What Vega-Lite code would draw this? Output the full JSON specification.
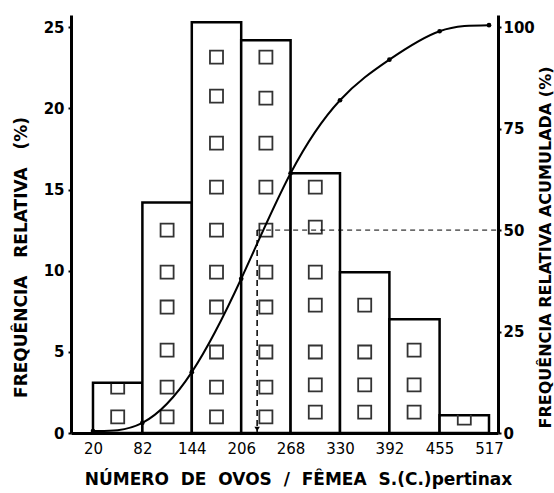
{
  "$schema": "https://vega.github.io/schema/vega-lite/v6.json",
  "width": 427,
  "height": 418,
  "autosize": {"type": "none"},
  "padding": {"left": 71, "top": 15, "right": 56, "bottom": 60},
  "background": "white",
  "config": {"view": {"stroke": null}, "font": "DejaVu Sans"},
  "datasets": {
    "bars": [
      {"start": 20, "end": 82, "freq": 3.1},
      {"start": 82, "end": 144, "freq": 14.2},
      {"start": 144, "end": 206, "freq": 25.3},
      {"start": 206, "end": 268, "freq": 24.2},
      {"start": 268, "end": 330, "freq": 16.0},
      {"start": 330, "end": 392, "freq": 9.9},
      {"start": 392, "end": 455, "freq": 7.0},
      {"start": 455, "end": 517, "freq": 1.1}
    ],
    "squares": [
      {"start": 20, "level": 0.99}, {"start": 20, "level": 2.83},
      {"start": 82, "level": 0.99}, {"start": 82, "level": 2.83}, {"start": 82, "level": 5.11}, {"start": 82, "level": 7.76}, {"start": 82, "level": 9.91}, {"start": 82, "level": 12.5},
      {"start": 144, "level": 0.99}, {"start": 144, "level": 2.83}, {"start": 144, "level": 4.99}, {"start": 144, "level": 7.76}, {"start": 144, "level": 9.91}, {"start": 144, "level": 12.5}, {"start": 144, "level": 15.15}, {"start": 144, "level": 17.86}, {"start": 144, "level": 20.75}, {"start": 144, "level": 23.15},
      {"start": 206, "level": 0.99}, {"start": 206, "level": 2.83}, {"start": 206, "level": 4.99}, {"start": 206, "level": 7.76}, {"start": 206, "level": 9.91}, {"start": 206, "level": 12.5}, {"start": 206, "level": 15.15}, {"start": 206, "level": 17.86}, {"start": 206, "level": 20.63}, {"start": 206, "level": 23.15},
      {"start": 268, "level": 1.29}, {"start": 268, "level": 2.96}, {"start": 268, "level": 4.99}, {"start": 268, "level": 7.88}, {"start": 268, "level": 9.91}, {"start": 268, "level": 12.68}, {"start": 268, "level": 15.15},
      {"start": 330, "level": 1.29}, {"start": 330, "level": 2.96}, {"start": 330, "level": 4.99}, {"start": 330, "level": 7.88},
      {"start": 392, "level": 1.29}, {"start": 392, "level": 2.96}, {"start": 392, "level": 5.11},
      {"start": 455, "level": 0.92}
    ],
    "cumulative": [
      {"x": 20, "pct": 0.5}, {"x": 82, "pct": 2.5}, {"x": 144, "pct": 15}, {"x": 206, "pct": 38}, {"x": 268, "pct": 64},
      {"x": 330, "pct": 82}, {"x": 392, "pct": 92}, {"x": 455, "pct": 99}, {"x": 517, "pct": 100.5}
    ],
    "median": [{"x": 226, "pct": 50}]
  },
  "layer": [
    {
      "layer": [
        {
          "data": {"name": "bars"},
          "mark": {"type": "rect", "fill": "white", "stroke": "black", "strokeWidth": 2.5},
          "encoding": {
            "x": {
              "field": "start", "type": "quantitative",
              "scale": {"domain": [-7.6, 528.3], "nice": false, "zero": false},
              "axis": {
                "values": [20, 82, 144, 206, 268, 330, 392, 455, 517],
                "title": "NÚMERO\u00a0\u00a0DE\u00a0\u00a0OVOS\u00a0\u00a0/\u00a0\u00a0FÊMEA\u00a0\u00a0S.(C.)pertinax",
                "titleFont": "DejaVu Sans", "titleFontSize": 17, "titleFontWeight": "bold", "titleColor": "black",
                "titleX": 227, "titleY": 46, "titleAlign": "center", "titleBaseline": "middle", "titleAnchor": null,
                "grid": false, "ticks": false, "labelPadding": 8,
                "labelFont": "DejaVu Sans", "labelFontSize": 15, "labelColor": "black", "labelFlush": false, "labelOverlap": false,
                "domainColor": "black", "domainWidth": 3
              }
            },
            "x2": {"field": "end"},
            "y": {
              "field": "freq", "type": "quantitative",
              "scale": {"domain": [0, 25.75], "nice": false},
              "axis": {
                "orient": "left",
                "values": [0, 5, 10, 15, 20, 25],
                "title": "FREQUÊNCIA\u00a0\u00a0\u00a0RELATIVA\u00a0\u00a0\u00a0(%)",
                "titleFont": "DejaVu Sans", "titleFontSize": 17, "titleFontWeight": "bold", "titleColor": "black",
                "titleX": -50, "titleY": 242, "titleAngle": -90, "titleAlign": "center", "titleBaseline": "middle", "titleAnchor": null,
                "grid": false, "tickSize": 3, "tickWidth": 2, "tickColor": "black", "labelPadding": 4,
                "labelFont": "DejaVu Sans", "labelFontSize": 15, "labelFontWeight": "bold", "labelColor": "black", "labelFlush": false,
                "domainColor": "black", "domainWidth": 3
              }
            },
            "y2": {"datum": 0}
          }
        },
        {
          "data": {"name": "squares"},
          "transform": [
            {"lookup": "start", "from": {"data": {"name": "bars"}, "key": "start", "fields": ["freq"]}}
          ],
          "mark": {"type": "point", "filled": false, "stroke": "#333333", "strokeWidth": 1.8, "size": 170, "xOffset": 24.7, "opacity": 1},
          "encoding": {
            "x": {"field": "start", "type": "quantitative", "scale": {"domain": [-7.6, 528.3], "nice": false, "zero": false}},
            "y": {"field": "level", "type": "quantitative", "scale": {"domain": [0, 25.75], "nice": false}},
            "shape": {
              "condition": {"test": "datum.level + 0.42 > datum.freq", "value": "M-1,-0.5L-1,1L1,1L1,-0.5"},
              "value": "square"
            }
          }
        }
      ]
    },
    {
      "layer": [
        {
          "data": {"name": "cumulative"},
          "mark": {"type": "line", "interpolate": "natural", "stroke": "black", "strokeWidth": 2},
          "encoding": {
            "x": {"field": "x", "type": "quantitative", "scale": {"domain": [-7.6, 528.3], "nice": false, "zero": false}},
            "y": {
              "field": "pct", "type": "quantitative",
              "scale": {"domain": [0, 103], "nice": false},
              "axis": {
                "orient": "right",
                "values": [0, 25, 50, 75, 100],
                "title": "FREQUÊNCIA RELATIVA ACUMULADA (%)",
                "titleFont": "DejaVu Sans", "titleFontSize": 16, "titleFontWeight": "bold", "titleColor": "black",
                "titleX": 47, "titleY": 232, "titleAngle": -90, "titleAlign": "center", "titleBaseline": "middle", "titleAnchor": null,
                "grid": false, "tickSize": 3, "tickWidth": 2, "tickColor": "black", "labelPadding": 2,
                "labelFont": "DejaVu Sans", "labelFontSize": 15, "labelFontWeight": "bold", "labelColor": "black", "labelFlush": false,
                "domainColor": "black", "domainWidth": 3
              }
            }
          }
        },
        {
          "data": {"name": "cumulative"},
          "mark": {"type": "point", "filled": true, "color": "black", "size": 22, "opacity": 1},
          "encoding": {
            "x": {"field": "x", "type": "quantitative", "scale": {"domain": [-7.6, 528.3], "nice": false, "zero": false}},
            "y": {"field": "pct", "type": "quantitative", "scale": {"domain": [0, 103], "nice": false}}
          }
        },
        {
          "data": {"name": "median"},
          "mark": {"type": "rule", "stroke": "black", "strokeWidth": 1, "strokeDash": [5, 4]},
          "encoding": {
            "x": {"field": "x", "type": "quantitative", "scale": {"domain": [-7.6, 528.3], "nice": false, "zero": false}},
            "x2": {"datum": 528.3},
            "y": {"field": "pct", "type": "quantitative", "scale": {"domain": [0, 103], "nice": false}}
          }
        },
        {
          "data": {"name": "median"},
          "mark": {"type": "rule", "stroke": "black", "strokeWidth": 1.5, "strokeDash": [6, 4]},
          "encoding": {
            "x": {"field": "x", "type": "quantitative", "scale": {"domain": [-7.6, 528.3], "nice": false, "zero": false}},
            "y": {"field": "pct", "type": "quantitative", "scale": {"domain": [0, 103], "nice": false}},
            "y2": {"datum": 0}
          }
        },
        {
          "data": {"name": "median"},
          "mark": {"type": "point", "shape": "triangle-down", "filled": true, "color": "black", "size": 30, "yOffset": -4, "opacity": 1},
          "encoding": {
            "x": {"field": "x", "type": "quantitative", "scale": {"domain": [-7.6, 528.3], "nice": false, "zero": false}},
            "y": {"datum": 0, "type": "quantitative", "scale": {"domain": [0, 103], "nice": false}}
          }
        }
      ]
    }
  ],
  "resolve": {"scale": {"y": "independent"}}
}
